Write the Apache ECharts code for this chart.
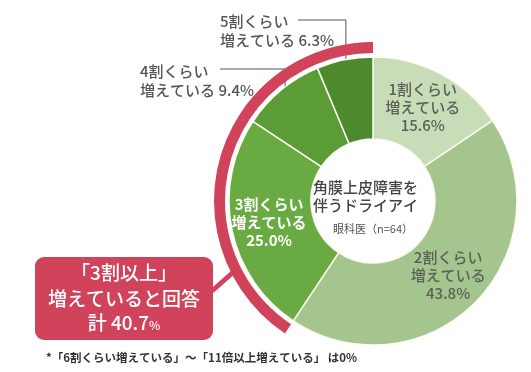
<!DOCTYPE html>
<html><head><meta charset="utf-8">
<script src="https://cdn.jsdelivr.net/npm/echarts@6/dist/echarts.min.js"></script>
<style>html,body{margin:0;padding:0;background:#fff}#c{width:531px;height:372px}</style>
</head><body><div id="c"></div>
<script>
var categories = ['1割くらい', '2割くらい', '3割くらい', '4割くらい', '5割くらい'];
var values = [15.6, 43.8, 25.0, 9.4, 6.3];
var colors = ['#c8dcb8', '#a4c68e', '#6aaa42', '#5b9c37', '#4c8a2d'];
var subLabel = '増えている';
var centerTitle = ['角膜上皮障害を', '伴うドライアイ'];
var centerSub = '眼科医（n=64）';
var calloutLines = ['「3割以上」', '増えていると回答'];
var calloutTotalPrefix = '計 ';
var highlightIdx = [2, 3, 4];
var footnote = '*「6割くらい増えている」～「11倍以上増えている」 は0%';

var FONT = '"Noto Sans CJK JP", "Noto Sans", sans-serif';
var RED = '#d0435a';
var CX = 373, CY = 201;
var total = values.reduce(function (a, b) { return a + b; }, 0);
var highSum = highlightIdx.reduce(function (a, i) { return a + values[i]; }, 0);
var lowSum = total - highSum;

function midAngle(i) {
  var cum = 0;
  for (var k = 0; k < i; k++) cum += values[k];
  return (cum + values[i] / 2) / total * 2 * Math.PI;
}
function pt(i, r) {
  var a = midAngle(i);
  return [CX + r * Math.sin(a), CY - r * Math.cos(a)];
}

var outsideCfg = {
  3: { x: 140, y: 62, lineY: 69, startX: 220 },
  4: { x: 220, y: 12, lineY: 20, startX: 298 }
};

var pieData = categories.map(function (c, i) {
  var inside = !outsideCfg[i];
  return {
    name: c,
    value: values[i],
    itemStyle: { color: colors[i] },
    label: inside ? {
      position: 'inside',
      color: i === 2 ? '#ffffff' : '#5b5f56',
      formatter: '{a|{b}}\n{a|' + subLabel + '}\n{a|{c}%}'
    } : {
      position: 'outside',
      color: '#555',
      align: 'left',
      formatter: '{b|{b}}\n{b|' + subLabel + ' {c}%}'
    },
    labelLine: { show: !inside, lineStyle: { color: '#555', width: 1 } }
  };
});
pieData[2].label.formatter = '{w|{b}}\n{w|' + subLabel + '}\n{w|' + values[2].toFixed(1) + '%}';

var chart = echarts.init(document.getElementById('c'), null, { renderer: 'canvas' });
chart.setOption({
  animation: false,
  series: [{
    type: 'pie',
    center: [CX, CY],
    radius: [62, 144],
    startAngle: 90,
    clockwise: true,
    avoidLabelOverlap: false,
    silent: true,
    itemStyle: { borderColor: '#fbfbf3', borderWidth: 1.5 },
    label: {
      fontFamily: FONT,
      rich: {
        a: { fontFamily: FONT, fontSize: 15, fontWeight: 500, lineHeight: 18, color: '#5b5f56', align: 'center' },
        w: { fontFamily: FONT, fontSize: 15, fontWeight: 'bold', lineHeight: 18, color: '#ffffff', align: 'center' },
        b: { fontFamily: FONT, fontSize: 15, fontWeight: 500, lineHeight: 19, color: '#555', align: 'left' }
      }
    },
    labelLayout: function (p) {
      var cfg = outsideCfg[p.dataIndex];
      if (!cfg) return {};
      var end = pt(p.dataIndex, 138);
      return {
        x: cfg.x, y: cfg.y, align: 'left', verticalAlign: 'top',
        labelLinePoints: [[cfg.startX, cfg.lineY], [end[0], cfg.lineY], [end[0], end[1]]]
      };
    },
    data: pieData
  }, {
    type: 'pie',
    center: [CX, CY],
    radius: [148, 159],
    startAngle: 90,
    clockwise: true,
    silent: true,
    label: { show: false },
    labelLine: { show: false },
    data: [
      { value: lowSum, itemStyle: { color: 'rgba(0,0,0,0)' } },
      { value: highSum, itemStyle: { color: RED } }
    ]
  }],
  graphic: [
    { type: 'text', left: CX - 60, top: 178, style: { text: centerTitle[0] + '\n' + centerTitle[1], width: 120, align: 'center', x: 60, font: '500 15px ' + FONT, fill: '#444', lineHeight: 18 } },
    { type: 'text', style: { text: centerSub, x: CX, y: 229, align: 'center', verticalAlign: 'middle', font: '11px ' + FONT, fill: '#555' } },
    { type: 'line', shape: { x1: 212, y1: 291, x2: 238, y2: 268 }, style: { stroke: RED, lineWidth: 5 } },
    { type: 'rect', shape: { x: 35, y: 257, width: 178, height: 83, r: 9 }, style: { fill: RED } },
    { type: 'text', style: { text: calloutLines[0], x: 124, y: 273, align: 'center', verticalAlign: 'middle', font: '500 19px ' + FONT, fill: '#fff' } },
    { type: 'text', style: { text: calloutLines[1], x: 124, y: 299, align: 'center', verticalAlign: 'middle', font: '500 19px ' + FONT, fill: '#fff' } },
    { type: 'text', style: { rich: { p: { font: '500 19px ' + FONT, fill: '#fff' }, s: { font: '500 12px ' + FONT, fill: '#fff', padding: [5, 0, 0, 0] } }, text: '{p|' + calloutTotalPrefix + highSum.toFixed(1) + '}{s|%}', x: 124, y: 323, align: 'center', verticalAlign: 'middle' } },
    { type: 'text', style: { text: footnote, x: 46, y: 358, verticalAlign: 'middle', font: 'bold 11.5px ' + FONT, fill: '#333' } }
  ]
});
</script></body></html>
